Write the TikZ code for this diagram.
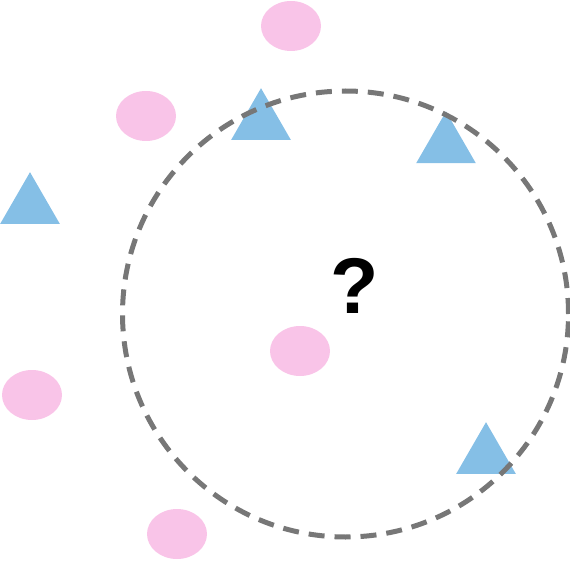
\documentclass[tikz,border=0pt]{standalone}
\usepackage{fontspec}
\setmainfont{Liberation Sans}
\usepackage{tikz}
\usetikzlibrary{shapes.geometric}
\definecolor{dotpink}{HTML}{F9C4E8}
\definecolor{triblue}{HTML}{85BFE6}
\definecolor{ringgray}{HTML}{777777}
\tikzset{
  pinkdot/.style={ellipse, draw=none, fill=dotpink, minimum width=60pt, minimum height=50pt, inner sep=0pt, outer sep=0pt},
  bluetri/.style={regular polygon, regular polygon sides=3, draw=none, fill=triblue, minimum size=69pt, inner sep=0pt, outer sep=0pt},
  ring/.style={draw=ringgray, line width=5pt, dash pattern=on 16pt off 10pt},
}

\begin{document}
\begin{tikzpicture}[x=1pt,y=-1pt]
  \useasboundingbox (0,0) rectangle (570,561);
  % pink class
  \node[pinkdot](p1) at (291,26){};
  \node[pinkdot](p2) at (146,116){};
  \node[pinkdot](p3) at (300,351){};
  \node[pinkdot](p4) at (32,395){};
  \node[pinkdot](p5) at (177,534){};
  % blue class
  \node[bluetri](t1) at (261,122.7){};
  \node[bluetri](t2) at (30,206.7){};
  \node[bluetri](t3) at (446,146){};
  \node[bluetri](t4) at (486,456.7){};
  % query point
  \node[font=\fontsize{79}{79}\selectfont\bfseries,inner sep=0pt](q) at (355,286){?};
  % neighbourhood
  \node[ring,circle,minimum size=446pt,inner sep=0pt](nb) at (345.5,314){};
\end{tikzpicture}
\end{document}
